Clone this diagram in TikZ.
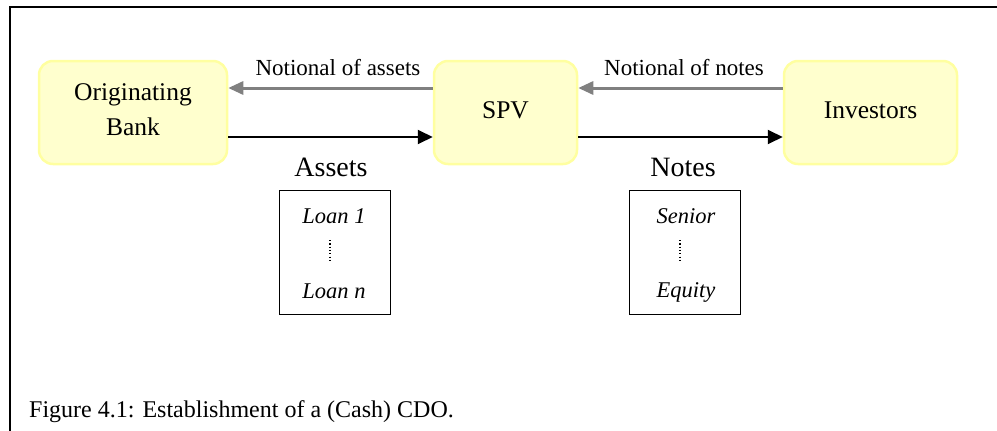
\documentclass[tikz,border=0pt]{standalone}
\usepackage{fontspec}
\setmainfont{Liberation Serif}
\usetikzlibrary{arrows.meta}
\definecolor{boxfill}{RGB}{255,255,206}
\definecolor{boxline}{RGB}{255,255,160}
\definecolor{flowgray}{RGB}{128,128,128}
\tikzset{
  party/.style={draw=boxline, fill=boxfill, line width=2.5pt, rounded corners=14pt,
    minimum height=103pt, inner sep=0pt, align=center,
    font=\fontsize{25.5}{35}\selectfont},
  single/.style={text height=17pt, text depth=6pt},
  pay/.style={draw=flowgray, line width=3pt, -{Triangle[length=15pt,width=13pt]}},
  give/.style={draw=black, line width=2pt, -{Triangle[length=15pt,width=14pt]}},
  lbl/.style={anchor=base, inner sep=0pt, font=\fontsize{23}{27}\selectfont},
  head/.style={anchor=base, inner sep=0pt, font=\fontsize{28}{32}\selectfont},
  listbox/.style={draw=black, line width=1.5pt, minimum width=111pt, minimum height=124pt, inner sep=0pt},
  item/.style={anchor=base, inner sep=0pt, font=\fontsize{22.5}{26}\itshape\selectfont},
  dots/.style={line width=1.3pt, dash pattern=on 1.2pt off 2.1pt},
}
\begin{document}
\begin{tikzpicture}[x=1pt, y=-1pt]
\useasboundingbox (0,0) rectangle (997,431);
% frame
\draw[line width=2pt] (9.5,431) -- (9.5,6.5) -- (997,6.5);
% parties
\node[party, minimum width=188pt, text height=52pt, text depth=7pt] (bank) at (133,112.5) {Originating\\Bank};
\node[party, single, minimum width=143pt] (spv) at (505.5,112.5) {SPV};
\node[party, single, minimum width=173pt] (inv) at (870.5,112.5) {Investors};
% flows
\draw[pay] ([yshift=24.5pt]spv.west) -- ([yshift=24.5pt]bank.east);
\draw[give] ([yshift=-24.5pt]bank.east) -- ([yshift=-24.5pt]spv.west);
\draw[pay] ([yshift=24.5pt]inv.west) -- ([yshift=24.5pt]spv.east);
\draw[give] ([yshift=-24.5pt]spv.east) -- ([yshift=-24.5pt]inv.west);
% labels
\node[lbl] (nassets) at (338,75) {Notional of assets};
\node[lbl] (nnotes) at (684,75) {Notional of notes};
\node[head] (assets) at (331,176) {Assets};
\node[head] (notes) at (683,176) {Notes};
% asset list
\node[listbox] (abox) at (335,252.5) {};
\node[item] (loan1) at (334,223) {Loan 1};
\node[item] (loann) at (334,298) {Loan n};
\draw[dots] ([xshift=-4pt,yshift=-17pt]loan1.base) -- ([xshift=-4pt,yshift=35pt]loann.base);
% note list
\node[listbox] (nbox) at (685,252.5) {};
\node[item] (senior) at (686,223) {Senior};
\node[item] (equity) at (686,297) {Equity};
\draw[dots] ([xshift=-6pt,yshift=-17pt]senior.base) -- ([xshift=-6pt,yshift=34pt]equity.base);
% caption
\node[anchor=base west, inner sep=0pt, font=\fontsize{24}{28}\selectfont] (cap) at (29,417) {Figure 4.1: Establishment of a (Cash) CDO.};
\end{tikzpicture}
\end{document}
